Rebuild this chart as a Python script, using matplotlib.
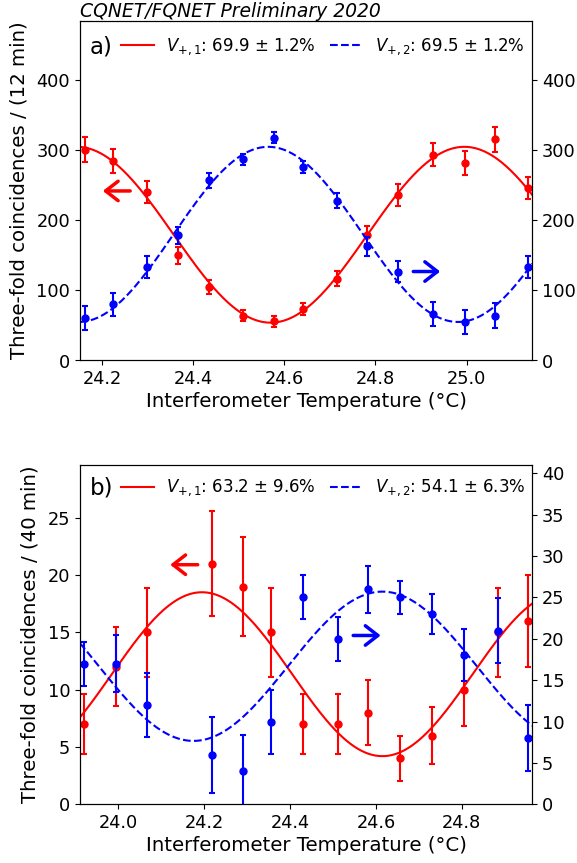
import numpy as np
import matplotlib
matplotlib.use("Agg")
import matplotlib.pyplot as plt

# ---------------- data: panel a) ----------------
temps_a = [24.162, 24.225, 24.299, 24.366, 24.436, 24.509, 24.578, 24.640,
           24.716, 24.782, 24.849, 24.926, 24.997, 25.062, 25.134]
red_a = [301, 285, 240, 150, 105, 64, 56, 74, 117, 179, 236, 294, 282, 316, 246]
blue_a = [61, 80, 133, 179, 257, 287, 318, 276, 228, 163, 127, 67, 55, 64, 133]
red_err_a = [17.3, 16.9, 15.5, 12.2, 10.2, 8.0, 7.5, 8.6, 10.8, 13.4, 15.4, 17.1, 16.8, 17.8, 15.7]
blue_err_a = [17.3, 16.9, 15.5, 12.2, 10.2, 8.0, 7.5, 8.6, 10.8, 13.4, 15.4, 17.1, 16.8, 17.8, 15.7]
# fit parameters (offset, amplitude, period, peak position)
fit_red_a = (179.5, 125.5, 0.85, 24.995)
fit_blue_a = (180.0, 125.0, 0.832, 24.565)
label_red_a = r"$V_{+,1}$: 69.9 ± 1.2%"
label_blue_a = r"$V_{+,2}$: 69.5 ± 1.2%"

# ---------------- data: panel b) ----------------
temps_b = [23.921, 23.995, 24.067, 24.219, 24.291, 24.356, 24.430, 24.511,
           24.582, 24.656, 24.731, 24.805, 24.883, 24.954]
red_b = [7, 12, 15, 21, 19, 15, 7, 7, 8, 4, 6, 10, 15, 16]
blue_b = [17, 17, 12, 6, 4, 10, 25, 20, 26, 25, 23, 18, 21, 8]
red_err_b = [2.65, 3.46, 3.87, 4.58, 4.36, 3.87, 2.65, 2.65, 2.83, 2.0, 2.45, 3.16, 3.87, 4.0]
blue_err_b = [2.65, 3.46, 3.87, 4.58, 4.36, 3.87, 2.65, 2.65, 2.83, 2.0, 2.45, 3.16, 3.87, 4.0]
fit_red_b = (11.35, 7.15, 0.84, 24.195)
fit_blue_b = (16.68, 9.02, 0.88, 24.615)
label_red_b = r"$V_{+,1}$: 63.2 ± 9.6%"
label_blue_b = r"$V_{+,2}$: 54.1 ± 6.3%"

xlim_a = (24.152, 25.144)
xlim_b = (23.911, 24.964)
ylim_a = (0, 485)
ylim_b_left = (0, 29.6)
ylim_b_right = (0, 41.0)

title = "CQNET/FQNET Preliminary 2020"
xlabel = "Interferometer Temperature (°C)"
ylabel_a = "Three-fold coincidences / (12 min)"
ylabel_b = "Three-fold coincidences / (40 min)"


def model(x, p):
    off, amp, per, peak = p
    return off + amp * np.cos(2 * np.pi * (x - peak) / per)


fig = plt.figure(figsize=(5.77, 8.63), dpi=100)
L, R = 80 / 577, 532.3 / 577
axA = fig.add_axes([L, (863 - 360.5) / 863, R - L, (360.5 - 20.7) / 863])
axB = fig.add_axes([L, (863 - 804.3) / 863, R - L, (804.3 - 465) / 863])

TICK = 12.8
LEG = 12.0
LAB = 14.2

ebkw = dict(fmt='o', ms=5, capsize=2, elinewidth=1.5, capthick=1.5)


def panel(ax, temps, red, red_err, blue, blue_err, fr, fb, lr, lb, xlim,
          ylim_l, ylim_r, tag, ylabel, xticks, yticks_l, yticks_r,
          arr_red, arr_blue):
    ax2 = ax.twinx()
    xs = np.linspace(xlim[0], xlim[1], 400)
    l1, = ax.plot(xs, model(xs, fr), '-', color='red', lw=1.5)
    ax.errorbar(temps, red, yerr=red_err, color='red', **ebkw)
    l2, = ax2.plot(xs, model(xs, fb), '--', color='blue', lw=1.5)
    ax2.errorbar(temps, blue, yerr=blue_err, color='blue', **ebkw)
    ax.set_xlim(*xlim)
    ax.set_ylim(*ylim_l)
    ax2.set_ylim(*ylim_r)
    ax.set_xticks(xticks)
    ax.set_yticks(yticks_l)
    ax2.set_yticks(yticks_r)
    for a in (ax, ax2):
        a.tick_params(labelsize=TICK)
    ax.set_xlabel(xlabel, fontsize=LAB, labelpad=3)
    ax.set_ylabel(ylabel, fontsize=LAB, labelpad=6)
    ax.text(0.022, tag[1], tag[0], transform=ax.transAxes, fontsize=16.5,
            va='center', ha='left')
    ax2.legend([l1, l2], [lr, lb], ncol=2, frameon=False, fontsize=LEG,
               loc='center left', bbox_to_anchor=(0.09, tag[1]),
               borderaxespad=0, borderpad=0, handlelength=2.0,
               handletextpad=0.7, columnspacing=0.85)
    ax.annotate('', xy=(arr_red[0], arr_red[2]), xytext=(arr_red[1], arr_red[2]),
                arrowprops=dict(arrowstyle='->,head_length=0.45,head_width=0.35',
                                color='red', lw=2.5, shrinkA=0, shrinkB=0,
                                mutation_scale=20))
    ax2.annotate('', xy=(arr_blue[1], arr_blue[2]), xytext=(arr_blue[0], arr_blue[2]),
                 arrowprops=dict(arrowstyle='->,head_length=0.45,head_width=0.35',
                                 color='blue', lw=2.5, shrinkA=0, shrinkB=0,
                                 mutation_scale=20))
    return ax2


axA2 = panel(axA, temps_a, red_a, red_err_a, blue_a, blue_err_a, fit_red_a, fit_blue_a,
             label_red_a, label_blue_a, xlim_a, ylim_a, ylim_a, ("a)", 0.9226), ylabel_a,
             [24.2, 24.4, 24.6, 24.8, 25.0], [0, 100, 200, 300, 400], [0, 100, 200, 300, 400],
             (24.202, 24.262, 242), (24.883, 24.942, 127))
axB2 = panel(axB, temps_b, red_b, red_err_b, blue_b, blue_err_b, fit_red_b, fit_blue_b,
             label_red_b, label_blue_b, xlim_b, ylim_b_left, ylim_b_right, ("b)", 0.932), ylabel_b,
             [24.0, 24.2, 24.4, 24.6, 24.8], [0, 5, 10, 15, 20, 25],
             [0, 5, 10, 15, 20, 25, 30, 35, 40],
             (24.121, 24.185, 20.9), (24.547, 24.611, 20.4))

axA.set_title(title, loc='left', fontstyle='italic', fontsize=13.5, pad=2)

fig.savefig("out.png", dpi=100)
